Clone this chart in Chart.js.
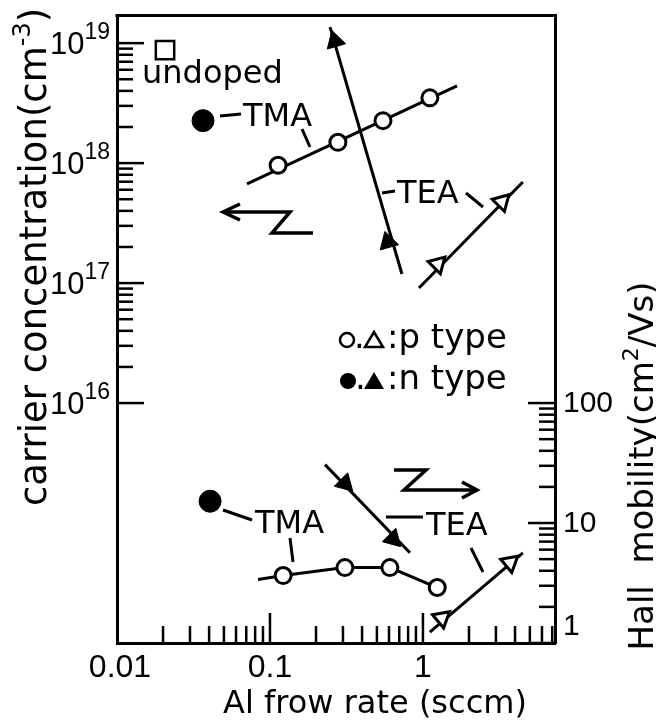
<!DOCTYPE html>
<html>
<head>
<meta charset="utf-8">
<title>Carrier concentration and Hall mobility vs Al flow rate</title>
<script src="https://cdn.jsdelivr.net/npm/chart.js@4.4.1/dist/chart.umd.min.js"></script>
<style>
  html, body { margin: 0; padding: 0; background: #fff; }
  canvas { display: block; }
</style>
</head>
<body>
<canvas id="hallChart" width="656" height="722"></canvas>
<script>
// ---- upper panel: carrier concentration (cm^-3), left axis ----
const undopedFlow = [0.0206];
const undopedConc = [8.75e18];

const tmaNFlow = [0.0365];
const tmaNConc = [2.26e18];

const tmaPFlow = [0.113, 0.278, 0.548, 1.11];
const tmaPConc = [9.6e17, 1.49e18, 2.26e18, 3.5e18];
const tmaPFitFlow = [0.0708, 1.67];
const tmaPFitConc = [6.7e17, 4.4e18];

const teaNFlow = [0.266, 0.59];
const teaNConc = [1.04e19, 2.2e17];
const teaNFitFlow = [0.247, 0.729];
const teaNFitConc = [1.36e19, 1.19e17];

const teaPFlow = [1.25, 3.28];
const teaPConc = [1.44e17, 4.76e17];
const teaPFitFlow = [0.942, 4.5];
const teaPFitConc = [9.1e16, 6.97e17];

// ---- lower panel: Hall mobility (cm^2/Vs), right axis ----
const tmaNMobFlow = [0.0406];
const tmaNMob = [15.2];

const teaNMobFlow = [0.309, 0.637];
const teaNMob = [21.4, 7.38];
const teaNMobFitFlow = [0.229, 0.822];
const teaNMobFit = [30.7, 5.65];

const tmaPMobFlow = [0.122, 0.309, 0.608, 1.24];
const tmaPMob = [3.65, 4.25, 4.25, 2.9];
const tmaPMobLeadFlow = [0.0836];
const tmaPMobLead = [3.38];

const teaPMobFlow = [1.33, 3.71];
const teaPMob = [1.61, 4.67];
const teaPMobFitFlow = [1.11, 4.5];
const teaPMobFit = [1.23, 5.65];

// ---- ticks and tick labels ----
const xLabelValues = [0.01, 0.1, 1];
const xLabels = ['0.01', '0.1', '1'];
const xMajorTicks = [0.1, 1];
const xMinorTicks = [0.02, 0.03, 0.04, 0.05, 0.06, 0.07, 0.08, 0.09,
                     0.2, 0.3, 0.4, 0.5, 0.6, 0.7, 0.8, 0.9,
                     2, 3, 4, 5, 6, 7];
const concExponents = [16, 17, 18, 19];
const concMinorTicks = [2e16, 3e16, 4e16, 5e16, 6e16, 7e16, 8e16, 9e16,
                        2e17, 3e17, 4e17, 5e17, 6e17, 7e17, 8e17, 9e17,
                        2e18, 3e18, 4e18, 5e18, 6e18, 7e18, 8e18, 9e18];
const mobValues = [1, 10, 100];
const mobLabels = ['1', '10', '100'];
const mobMinorTicks = [2, 3, 4, 5, 6, 7, 8, 9, 20, 30, 40, 50, 60, 70, 80, 90];

const pts = (xs, ys) => xs.map((x, i) => ({ x: x, y: ys[i] }));

const openCircle = { pointStyle: 'circle', pointRadius: 8, pointBackgroundColor: '#fff', pointBorderColor: '#000', pointBorderWidth: 3 };
const fullCircle = { pointStyle: 'circle', pointRadius: 11, pointBackgroundColor: '#000', pointBorderColor: '#000', pointBorderWidth: 1 };
const openTri = { pointStyle: 'triangle', pointRadius: 10, pointBackgroundColor: '#fff', pointBorderColor: '#000', pointBorderWidth: 3 };
const fullTri = { pointStyle: 'triangle', pointRadius: 11, pointBackgroundColor: '#000', pointBorderColor: '#000', pointBorderWidth: 1 };
const openSquare = { pointStyle: 'rect', pointRadius: 13, pointBackgroundColor: '#fff', pointBorderColor: '#000', pointBorderWidth: 2.5 };

function marks(data, axis, style, rotation) {
    return Object.assign({ data: data, yAxisID: axis, showLine: false, order: 1, pointRotation: rotation || 0 }, style);
}
function fit(data, axis) {
    return { data: data, yAxisID: axis, showLine: true, pointRadius: 0, borderColor: '#000', borderWidth: 3, order: 2 };
}

const datasets = [
    // concentration
    fit(pts(tmaPFitFlow, tmaPFitConc), 'y'),
    fit(pts(teaNFitFlow, teaNFitConc), 'y'),
    fit(pts(teaPFitFlow, teaPFitConc), 'y'),
    marks(pts(undopedFlow, undopedConc), 'y', openSquare),
    marks(pts(tmaNFlow, tmaNConc), 'y', fullCircle),
    marks(pts(tmaPFlow, tmaPConc), 'y', openCircle),
    marks(pts(teaNFlow, teaNConc), 'y', fullTri, -16),
    marks(pts(teaPFlow, teaPConc), 'y', openTri, 45),
    // mobility
    fit(pts(teaNMobFitFlow, teaNMobFit), 'y1'),
    fit(pts(tmaPMobLeadFlow.concat(tmaPMobFlow), tmaPMobLead.concat(tmaPMob)), 'y1'),
    fit(pts(teaPMobFitFlow, teaPMobFit), 'y1'),
    marks(pts(tmaNMobFlow, tmaNMob), 'y1', fullCircle),
    marks(pts(teaNMobFlow, teaNMob), 'y1', fullTri, 135),
    marks(pts(tmaPMobFlow, tmaPMob), 'y1', openCircle),
    marks(pts(teaPMobFlow, teaPMob), 'y1', openTri, 50)
];

const NUM_FONT = '"Liberation Sans", Arial, sans-serif';
const TXT_FONT = '"DejaVu Sans", sans-serif';

function seg(ctx, x1, y1, x2, y2) {
    ctx.beginPath();
    ctx.moveTo(x1, y1);
    ctx.lineTo(x2, y2);
    ctx.stroke();
}

// draws a run of text pieces (some raised) starting at x, returns end x
function runs(ctx, parts, x, y) {
    parts.forEach(p => {
        ctx.font = p.font;
        ctx.fillText(p.text, x, y + (p.dy || 0));
        x += ctx.measureText(p.text).width;
    });
    return x;
}
function runsWidth(ctx, parts) {
    let w = 0;
    parts.forEach(p => { ctx.font = p.font; w += ctx.measureText(p.text).width; });
    return w;
}

const figureDecor = {
    id: 'figureDecor',
    afterDraw(chart) {
        const ctx = chart.ctx;
        const a = chart.chartArea;
        const sx = chart.scales.x, sy = chart.scales.y, sr = chart.scales.y1;
        ctx.save();
        ctx.strokeStyle = '#000';
        ctx.fillStyle = '#000';
        ctx.lineCap = 'butt';

        // top edge of the frame
        ctx.lineWidth = 3;
        seg(ctx, a.left - 1.5, a.top, a.right + 1.5, a.top);

        // inward tick marks
        ctx.lineWidth = 2.5;
        xMajorTicks.forEach(v => { const p = sx.getPixelForValue(v); seg(ctx, p, a.bottom, p, a.bottom - 30); });
        xMinorTicks.forEach(v => { const p = sx.getPixelForValue(v); seg(ctx, p, a.bottom, p, a.bottom - 17); });
        concExponents.forEach(e => { const p = sy.getPixelForValue(Math.pow(10, e)); seg(ctx, a.left, p, a.left + 27, p); });
        concMinorTicks.forEach(v => { const p = sy.getPixelForValue(v); seg(ctx, a.left, p, a.left + 16, p); });
        mobValues.forEach(v => { const p = sr.getPixelForValue(v); seg(ctx, a.right, p, a.right - 27, p); });
        mobMinorTicks.forEach(v => { const p = sr.getPixelForValue(v); seg(ctx, a.right, p, a.right - 16, p); });

        // tick labels
        ctx.textBaseline = 'alphabetic';
        ctx.textAlign = 'center';
        ctx.font = '32px ' + NUM_FONT;
        xLabelValues.forEach((v, i) => {
            ctx.fillText(xLabels[i], sx.getPixelForValue(v) + (i === 0 ? 3 : 0), 677);
        });
        ctx.textAlign = 'left';
        concExponents.forEach(e => {
            const p = sy.getPixelForValue(Math.pow(10, e));
            const parts = [
                { text: '10', font: '31px ' + NUM_FONT },
                { text: String(e), font: '23px ' + NUM_FONT, dy: -15 }
            ];
            runs(ctx, parts, 110 - runsWidth(ctx, parts), p + 11);
        });
        ctx.font = '30px ' + NUM_FONT;
        ctx.textBaseline = 'middle';
        mobValues.forEach((v, i) => {
            const p = sr.getPixelForValue(v);
            ctx.fillText(mobLabels[i], a.right + 8, p + 1 - (v === 1 ? 17 : 0));
        });

        // axis titles
        ctx.textBaseline = 'alphabetic';
        ctx.textAlign = 'center';
        ctx.font = '32px ' + TXT_FONT;
        ctx.fillText('Al frow rate (sccm)', 375, 713);

        ctx.textAlign = 'left';
        const leftTitle = [
            { text: 'carrier concentration(cm', font: '37px ' + TXT_FONT },
            { text: '-3', font: '24px ' + TXT_FONT, dy: -16 },
            { text: ')', font: '37px ' + TXT_FONT }
        ];
        ctx.save();
        ctx.translate(46, 257);
        ctx.rotate(-Math.PI / 2);
        runs(ctx, leftTitle, -runsWidth(ctx, leftTitle) / 2, 0);
        ctx.restore();

        const rightTitle = [
            { text: 'Hall  mobility(cm', font: '34px ' + TXT_FONT },
            { text: '2', font: '22px ' + TXT_FONT, dy: -15 },
            { text: '/Vs)', font: '34px ' + TXT_FONT }
        ];
        ctx.save();
        ctx.translate(653, 466);
        ctx.rotate(-Math.PI / 2);
        runs(ctx, rightTitle, -runsWidth(ctx, rightTitle) / 2, 0);
        ctx.restore();

        // labels inside the plot
        ctx.font = '32px ' + TXT_FONT;
        ctx.fillText('undoped', 142, 83);
        ctx.fillText('TMA', 243, 126);
        ctx.fillText('TEA', 397, 203);
        ctx.fillText('TMA', 255, 533);
        ctx.fillText('TEA', 426, 535);

        ctx.lineWidth = 3;
        seg(ctx, 220, 116, 241, 114);   // -TMA (upper)
        seg(ctx, 302, 129, 310, 147);
        seg(ctx, 382, 193, 395, 191);   // -TEA (upper)
        seg(ctx, 466, 193, 483, 207);
        seg(ctx, 223, 510, 252, 520);   // -TMA (lower)
        seg(ctx, 290, 538, 293, 562);
        seg(ctx, 386, 517, 423, 517);   // -TEA (lower)
        seg(ctx, 471, 548, 483, 572);

        // axis pointers: upper data to the left axis, lower data to the right axis
        ctx.lineWidth = 3.5;
        ctx.lineJoin = 'miter';
        ctx.beginPath();
        ctx.moveTo(223, 212); ctx.lineTo(290, 212); ctx.lineTo(272, 233); ctx.lineTo(313, 233);
        ctx.stroke();
        ctx.beginPath();
        ctx.moveTo(240, 204); ctx.lineTo(223, 212); ctx.lineTo(240, 220);
        ctx.stroke();
        ctx.beginPath();
        ctx.moveTo(394, 470); ctx.lineTo(426, 470); ctx.lineTo(404, 490); ctx.lineTo(477, 490);
        ctx.stroke();
        ctx.beginPath();
        ctx.moveTo(462, 482); ctx.lineTo(477, 490); ctx.lineTo(462, 498);
        ctx.stroke();

        // type key
        ctx.lineWidth = 2.5;
        ctx.beginPath(); ctx.arc(347, 340, 7, 0, Math.PI * 2); ctx.stroke();
        ctx.beginPath(); ctx.moveTo(374, 332); ctx.lineTo(383, 347); ctx.lineTo(365, 347); ctx.closePath(); ctx.stroke();
        ctx.beginPath(); ctx.arc(348, 381, 8, 0, Math.PI * 2); ctx.fill();
        ctx.beginPath(); ctx.moveTo(374, 372); ctx.lineTo(384, 389); ctx.lineTo(364, 389); ctx.closePath(); ctx.fill();
        ctx.font = '34px ' + TXT_FONT;
        ctx.fillText('.', 354, 348);
        ctx.fillText('.', 355, 389);
        ctx.fillText(':p type', 387, 348);
        ctx.fillText(':n type', 387, 389);

        ctx.restore();
    }
};

new Chart(document.getElementById('hallChart'), {
    type: 'scatter',
    data: { datasets: datasets },
    options: {
        responsive: false,
        animation: false,
        events: [],
        layout: { padding: { top: 12, left: 0, right: 0, bottom: 0 } },
        plugins: { legend: { display: false }, tooltip: { enabled: false } },
        scales: {
            x: {
                type: 'logarithmic', position: 'bottom', min: 0.01, max: 7.3,
                ticks: { display: false }, grid: { display: false },
                border: { display: true, color: '#000', width: 3 },
                afterFit(scale) { scale.height = 79; }
            },
            y: {
                type: 'logarithmic', position: 'left', min: 1e14, max: 1.7e19,
                ticks: { display: false }, grid: { display: false },
                border: { display: true, color: '#000', width: 3 },
                afterFit(scale) { scale.width = 117; }
            },
            y1: {
                type: 'logarithmic', position: 'right', min: 1, max: 1.7e5,
                ticks: { display: false }, grid: { display: false },
                border: { display: true, color: '#000', width: 3 },
                afterFit(scale) { scale.width = 101; }
            }
        }
    },
    plugins: [figureDecor]
});
</script>
</body>
</html>
